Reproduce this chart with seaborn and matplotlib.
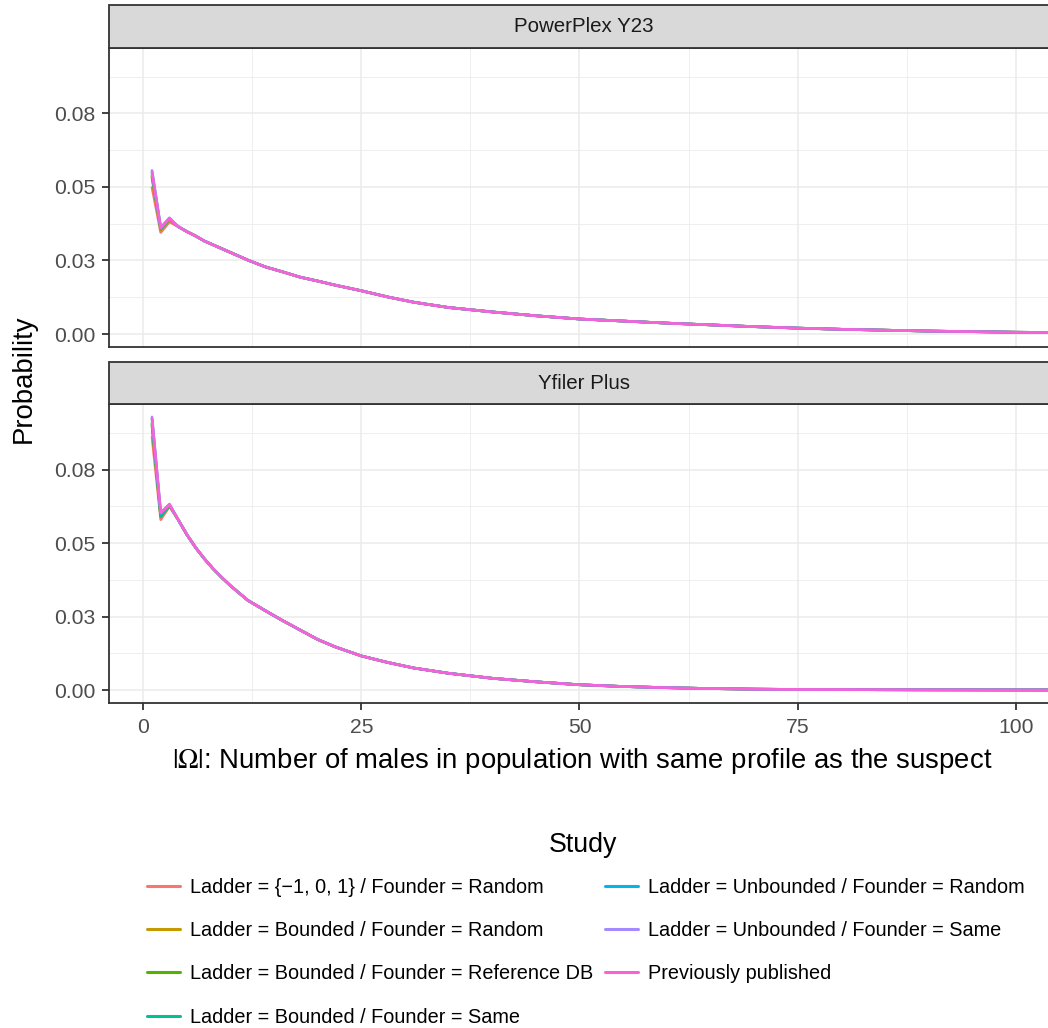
import matplotlib
matplotlib.use("Agg")
import matplotlib.pyplot as plt
import seaborn as sns
import pandas as pd
from matplotlib.patches import Rectangle

# ---------------- data ----------------
studies = [
    "Ladder = {\u22121, 0, 1} / Founder = Random",
    "Ladder = Bounded / Founder = Random",
    "Ladder = Bounded / Founder = Reference DB",
    "Ladder = Bounded / Founder = Same",
    "Ladder = Unbounded / Founder = Random",
    "Ladder = Unbounded / Founder = Same",
    "Previously published",
]
colors = ["#F8766D", "#C49A00", "#53B400", "#00C094", "#00B6EB", "#A58AFF", "#FB61D7"]
panels = ["PowerPlex Y23", "Yfiler Plus"]

x_head = [1, 2, 3]
x_tail = [4, 5, 6, 7, 8, 9, 10, 12, 14, 16, 18, 20, 22, 25, 28, 31, 35, 40, 45,
          50, 55, 60, 65, 70, 75, 80, 85, 90, 95, 100, 105, 110]

# first three points per study (where the studies visibly differ)
ppy23_heads = [
    [0.0498, 0.0345, 0.0381],
    [0.0530, 0.0352, 0.0388],
    [0.0535, 0.0356, 0.0390],
    [0.0540, 0.0358, 0.0390],
    [0.0552, 0.0360, 0.0393],
    [0.0556, 0.0362, 0.0395],
    [0.0548, 0.0360, 0.0392],
]
ppy23_tail = [0.0365, 0.0348, 0.0333, 0.0316, 0.0303, 0.0290, 0.0277, 0.0251, 0.0228,
              0.0211, 0.0193, 0.0180, 0.0166, 0.0147, 0.0126, 0.0108, 0.0090, 0.0075,
              0.0062, 0.0051, 0.0044, 0.0037, 0.0031, 0.0025, 0.0020, 0.0016, 0.0013,
              0.0010, 0.0008, 0.0006, 0.0005, 0.0004]

yfp_heads = [
    [0.0862, 0.0580, 0.0625],
    [0.0900, 0.0590, 0.0628],
    [0.0905, 0.0592, 0.0628],
    [0.0910, 0.0590, 0.0630],
    [0.0925, 0.0600, 0.0632],
    [0.0930, 0.0605, 0.0633],
    [0.0923, 0.0603, 0.0631],
]
yfp_tail = [0.0580, 0.0529, 0.0485, 0.0447, 0.0413, 0.0383, 0.0355, 0.0305, 0.0270,
            0.0236, 0.0204, 0.0172, 0.0147, 0.0116, 0.0094, 0.0075, 0.0057, 0.0040,
            0.0028, 0.0018, 0.0012, 0.0008, 0.0005, 0.0003, 0.0002, 0.00015, 0.0001,
            0.00007, 0.00005, 0.00003, 0.00002, 0.00002]

y_tick_vals = [0.0, 0.025, 0.05, 0.075]
y_tick_labels = ["0.00", "0.03", "0.05", "0.08"]
x_tick_vals = [0, 25, 50, 75, 100]

rows = []
for panel, heads, tail in [(panels[0], ppy23_heads, ppy23_tail),
                           (panels[1], yfp_heads, yfp_tail)]:
    for study, head in zip(studies, heads):
        for xv, yv in zip(x_head + x_tail, head + tail):
            rows.append({"panel": panel, "study": study, "x": xv, "p": yv})
df = pd.DataFrame(rows)

# ---------------- style ----------------
sns.set_style("white")
plt.rcParams["font.family"] = ["Liberation Sans", "DejaVu Sans"]
plt.rcParams["mathtext.fontset"] = "stix"

W, H = 1048, 1028
fig = plt.figure(figsize=(W / 100, H / 100), dpi=100)


def fa(l, t, r, b):
    return [l / W, 1 - b / H, (r - l) / W, (b - t) / H]


ax_top = fig.add_axes(fa(109, 47.7, 1058.7, 347.3))
ax_bot = fig.add_axes(fa(109, 404.3, 1058.7, 703.3))

border = "#333333"
for ax, panel in [(ax_top, panels[0]), (ax_bot, panels[1])]:
    sub = df[df["panel"] == panel]
    sns.lineplot(data=sub, x="x", y="p", hue="study", hue_order=studies,
                 palette=colors, linewidth=1.9, estimator=None, ax=ax,
                 legend=(ax is ax_bot))
    ax.set_xlim(-3.93, 104.93)
    ax.set_ylim(-0.00452, 0.0973)
    ax.set_xticks(x_tick_vals)
    ax.set_xticks([12.5, 37.5, 62.5, 87.5], minor=True)
    ax.set_yticks(y_tick_vals)
    ax.set_yticklabels(y_tick_labels)
    ax.set_yticks([0.0125, 0.0375, 0.0625, 0.0875], minor=True)
    ax.grid(which="major", color="#EBEBEB", linewidth=1.1)
    ax.grid(which="minor", color="#EBEBEB", linewidth=0.55)
    ax.set_axisbelow(True)
    ax.set_xlabel("")
    ax.set_ylabel("")
    for s in ax.spines.values():
        s.set_visible(True)
        s.set_color(border)
        s.set_linewidth(1.3)
    ax.tick_params(axis="both", which="major", length=5, width=1.3, color=border,
                   labelsize=15.2, labelcolor="#4D4D4D", left=True, bottom=True)
    ax.tick_params(axis="x", which="major", pad=5.5)
    ax.tick_params(axis="y", which="major", pad=4.6)
    ax.tick_params(axis="both", which="minor", length=0)
    # facet strip
    strip_h = 42.5 / ((347.3 - 47.7))
    ax.add_patch(Rectangle((0, 1), 1, strip_h, transform=ax.transAxes,
                           clip_on=False, facecolor="#D9D9D9", edgecolor=border,
                           linewidth=1.3, zorder=5))
    ax.text(0.5, 1 + strip_h / 2, panel, transform=ax.transAxes, ha="center",
            va="center", fontsize=14.8, color="#1A1A1A", zorder=6)

ax_top.tick_params(axis="x", bottom=False, labelbottom=False)

handles, labels = ax_bot.get_legend_handles_labels()
ax_bot.get_legend().remove()
for h in handles:
    h.set_linewidth(2.2)

leg = fig.legend(handles, labels, ncol=2, loc="upper center",
                 bbox_to_anchor=(586 / W, 1 - 868 / H), frameon=False,
                 fontsize=14.3, handlelength=1.65, borderpad=0,
                 handletextpad=0.5, columnspacing=0.6, labelspacing=1.22)
for t in leg.get_texts():
    t.set_color("black")
fig.text(583 / W, 1 - 845 / H, "Study", ha="center", va="center",
         fontsize=19.3, color="black")

fig.text(582.5 / W, 1 - 761 / H,
         r"$|\Omega|$: Number of males in population with same profile as the suspect",
         ha="center", va="center", fontsize=19.8, color="black")
fig.text(24 / W, 1 - 379 / H, "Probability", rotation=90, ha="center",
         va="center", fontsize=19.8, color="black")

fig.savefig("out.png", dpi=100)
